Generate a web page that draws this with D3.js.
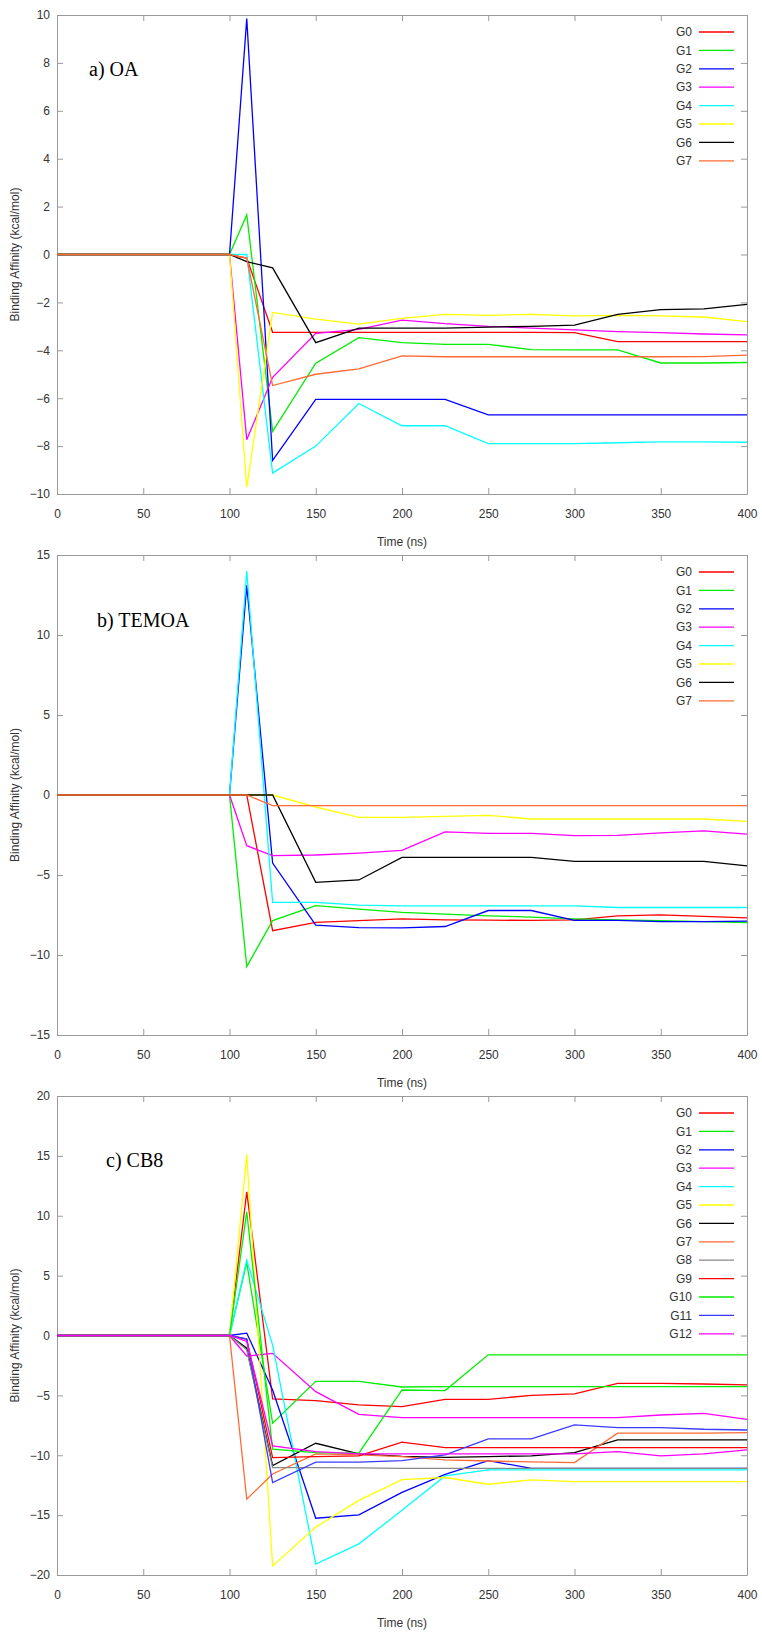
<!DOCTYPE html>
<html>
<head>
<meta charset="utf-8">
<script src="https://cdn.jsdelivr.net/npm/d3@7"></script>
<style>
  body { margin: 0; background: #fff; }
  svg text { font-family: "Liberation Sans", Arial, sans-serif; }
  svg text.title { font-family: "Liberation Serif", "Times New Roman", serif; }
</style>
</head>
<body>
<div id="chart"></div>
<script>
// time points (ns), shared by every series
const times = [0, 100, 110, 125, 150, 175, 200, 225, 250, 275, 300, 325, 350, 375, 400];
const xTicks = [0, 50, 100, 150, 200, 250, 300, 350, 400];

// a) OA, G0..G7
const oaNames = ["G0", "G1", "G2", "G3", "G4", "G5", "G6", "G7"];
const oaValues = [
  [0, 0, -0.15, -3.25, -3.25, -3.25, -3.25, -3.25, -3.25, -3.25, -3.26, -3.64, -3.64, -3.64, -3.64],
  [0, 0, 1.65, -7.38, -4.54, -3.47, -3.68, -3.75, -3.75, -3.97, -3.98, -3.98, -4.53, -4.53, -4.51],
  [0, 0, 9.85, -8.6, -6.05, -6.05, -6.05, -6.05, -6.7, -6.7, -6.7, -6.7, -6.7, -6.7, -6.7],
  [0, 0, -7.73, -5.13, -3.29, -3.13, -2.74, -2.89, -3.0, -3.07, -3.15, -3.22, -3.26, -3.32, -3.36],
  [0, 0, 0, -9.13, -8.0, -6.22, -7.15, -7.15, -7.9, -7.9, -7.9, -7.86, -7.82, -7.82, -7.84],
  [0, 0, -9.72, -2.42, -2.7, -2.91, -2.67, -2.5, -2.54, -2.5, -2.56, -2.54, -2.56, -2.61, -2.8],
  [0, 0, -0.3, -0.56, -3.68, -3.07, -3.07, -3.07, -3.03, -3.0, -2.95, -2.5, -2.3, -2.27, -2.08],
  [0, 0, -0.15, -5.47, -5.0, -4.78, -4.23, -4.27, -4.27, -4.27, -4.27, -4.27, -4.27, -4.26, -4.2]
];
const oaTicks = [-10, -8, -6, -4, -2, 0, 2, 4, 6, 8, 10];

// b) TEMOA, G0..G7
const temoaNames = ["G0", "G1", "G2", "G3", "G4", "G5", "G6", "G7"];
const temoaValues = [
  [0, 0, 0, -8.48, -7.96, -7.85, -7.74, -7.8, -7.82, -7.84, -7.8, -7.55, -7.49, -7.59, -7.68],
  [0, 0, -10.72, -7.85, -6.92, -7.13, -7.33, -7.45, -7.55, -7.63, -7.74, -7.8, -7.86, -7.91, -7.97],
  [0, 0, 13.1, -4.25, -8.13, -8.29, -8.3, -8.22, -7.22, -7.22, -7.84, -7.84, -7.91, -7.91, -7.88],
  [0, 0, -3.17, -3.79, -3.75, -3.63, -3.46, -2.3, -2.4, -2.4, -2.54, -2.52, -2.37, -2.24, -2.44],
  [0, 0, 14.0, -6.71, -6.71, -6.88, -6.93, -6.93, -6.93, -6.93, -6.93, -7.03, -7.03, -7.03, -7.03],
  [0, 0, 0, 0, -0.75, -1.4, -1.4, -1.34, -1.27, -1.5, -1.5, -1.5, -1.5, -1.5, -1.65],
  [0, 0, 0, 0, -5.46, -5.31, -3.9, -3.9, -3.9, -3.9, -4.15, -4.15, -4.15, -4.15, -4.43],
  [0, 0, 0, -0.67, -0.67, -0.67, -0.67, -0.67, -0.67, -0.67, -0.67, -0.67, -0.67, -0.67, -0.67]
];
const temoaTicks = [-15, -10, -5, 0, 5, 10, 15];

// c) CB8, G0..G12
const cb8Names = ["G0", "G1", "G2", "G3", "G4", "G5", "G6", "G7", "G8", "G9", "G10", "G11", "G12"];
const cb8Values = [
  [0, 0, 12.0, -5.3, -5.44, -5.8, -5.94, -5.33, -5.33, -5.0, -4.88, -3.99, -4.0, -4.05, -4.13],
  [0, 0, 6.08, -7.33, -3.83, -3.83, -4.3, -4.27, -4.27, -4.27, -4.27, -4.27, -4.27, -4.27, -4.27],
  [0, 0, 0.2, -4.55, -15.26, -14.98, -13.1, -11.59, -10.45, -11.1, -11.1, -11.1, -11.1, -11.1, -11.1],
  [0, 0, -1.71, -1.49, -4.69, -6.58, -6.85, -6.86, -6.86, -6.86, -6.86, -6.86, -6.64, -6.5, -7.0],
  [0, 0, 6.3, -0.8, -19.08, -17.4, -14.6, -11.73, -11.22, -11.22, -11.22, -11.22, -11.22, -11.22, -11.22],
  [0, 0, 15.14, -19.24, -16.0, -13.77, -12.03, -11.86, -12.42, -12.06, -12.2, -12.2, -12.2, -12.2, -12.2],
  [0, 0, -1.06, -10.86, -9.0, -9.89, -10.1, -10.17, -10.11, -10.05, -9.78, -8.72, -8.72, -8.72, -8.72],
  [0, 0, -13.67, -11.56, -9.89, -9.97, -10.11, -10.39, -10.48, -10.56, -10.61, -8.16, -8.16, -8.16, -8.11],
  [0, 0, -1.2, -11.03, -11.03, -11.06, -11.1, -11.1, -11.1, -11.1, -11.1, -11.1, -11.1, -11.1, -11.1],
  [0, 0, -0.3, -10.19, -10.11, -10.06, -8.9, -9.36, -9.36, -9.36, -9.36, -9.36, -9.36, -9.36, -9.36],
  [0, 0, 10.33, -9.5, -9.78, -9.83, -4.55, -4.6, -1.61, -1.61, -1.61, -1.61, -1.61, -1.61, -1.61],
  [0, 0, -0.3, -12.28, -10.58, -10.58, -10.45, -9.97, -8.64, -8.64, -7.47, -7.69, -7.69, -7.83, -7.89],
  [0, 0, -0.5, -9.22, -9.7, -9.89, -9.89, -9.89, -9.89, -9.89, -9.89, -9.69, -10.05, -9.89, -9.55]
];
const cb8Ticks = [-20, -15, -10, -5, 0, 5, 10, 15, 20];

// gnuplot-like line colours
const palette = ["#ff0000", "#00ee00", "#0000ff", "#ff00ff", "#00ffff", "#ffff00",
                 "#000000", "#ff6a33", "#888888", "#ff0000", "#00ee00", "#3a3aff", "#ff00ff"];

const width  = 762;
const height = 1632;
const left   = 57;
const right  = 747;

const panels = [
  { title: "a) OA",    names: oaNames,    values: oaValues,    ticks: oaTicks,
    top: 15,   bottom: 494,  titleX: 89,  titleY: 76 },
  { title: "b) TEMOA", names: temoaNames, values: temoaValues, ticks: temoaTicks,
    top: 555,  bottom: 1035, titleX: 97,  titleY: 627 },
  { title: "c) CB8",   names: cb8Names,   values: cb8Values,   ticks: cb8Ticks,
    top: 1096, bottom: 1575, titleX: 106, titleY: 1167 }
];

const svg = d3.select("#chart").append("svg")
  .attr("width", width)
  .attr("height", height);

const x = d3.scaleLinear().domain([0, 400]).range([left, right]);

panels.forEach(p => {
  const y = d3.scaleLinear()
    .domain([p.ticks[0], p.ticks[p.ticks.length - 1]])
    .range([p.bottom, p.top]);

  const g = svg.append("g");

  // axes, ticks pointing inwards on all four sides
  g.append("g")
    .attr("transform", "translate(0," + p.bottom + ")")
    .call(d3.axisBottom(x).tickValues(xTicks).tickSizeInner(-6).tickSizeOuter(0).tickPadding(15));
  g.append("g")
    .attr("transform", "translate(0," + p.top + ")")
    .call(d3.axisTop(x).tickValues(xTicks).tickSizeInner(-6).tickSizeOuter(0).tickFormat(""));
  g.append("g")
    .attr("transform", "translate(" + left + ",0)")
    .call(d3.axisLeft(y).tickValues(p.ticks).tickSizeInner(-6).tickSizeOuter(0).tickPadding(7));
  g.append("g")
    .attr("transform", "translate(" + right + ",0)")
    .call(d3.axisRight(y).tickValues(p.ticks).tickSizeInner(-6).tickSizeOuter(0).tickFormat(""));

  g.selectAll(".domain").attr("stroke", "#9a9a9a");
  g.selectAll(".tick line").attr("stroke", "#9a9a9a");
  g.selectAll(".tick text")
    .attr("fill", "#333")
    .attr("font-size", 12)
    .attr("font-family", null);

  const line = d3.line()
    .x((d, i) => x(times[i]))
    .y(d => y(d));

  g.selectAll("path.series")
    .data(p.values)
    .enter().append("path")
    .attr("class", "series")
    .attr("fill", "none")
    .attr("stroke", (d, i) => palette[i])
    .attr("stroke-width", 1.3)
    .attr("stroke-linejoin", "miter")
    .attr("d", line);

  // legend
  const legend = g.selectAll("g.key")
    .data(p.names)
    .enter().append("g")
    .attr("class", "key")
    .attr("transform", (d, i) => "translate(0," + (p.top + 17 + i * 18.4) + ")");
  legend.append("text")
    .attr("x", 692)
    .attr("dy", "0.35em")
    .attr("text-anchor", "end")
    .attr("font-size", 12)
    .attr("fill", "#333")
    .text(d => d);
  legend.append("line")
    .attr("x1", 699).attr("x2", 734)
    .attr("stroke", (d, i) => palette[i])
    .attr("stroke-width", 1.3);

  // titles and axis labels
  g.append("text")
    .attr("class", "title")
    .attr("x", p.titleX)
    .attr("y", p.titleY)
    .attr("font-size", 20)
    .attr("fill", "#000")
    .text(p.title);

  g.append("text")
    .attr("x", (left + right) / 2)
    .attr("y", p.bottom + 52)
    .attr("text-anchor", "middle")
    .attr("font-size", 12)
    .attr("fill", "#333")
    .text("Time (ns)");

  g.append("text")
    .attr("transform", "translate(19," + (p.top + p.bottom) / 2 + ") rotate(-90)")
    .attr("text-anchor", "middle")
    .attr("font-size", 12)
    .attr("fill", "#333")
    .text("Binding Affinity (kcal/mol)");
});
</script>
</body>
</html>
